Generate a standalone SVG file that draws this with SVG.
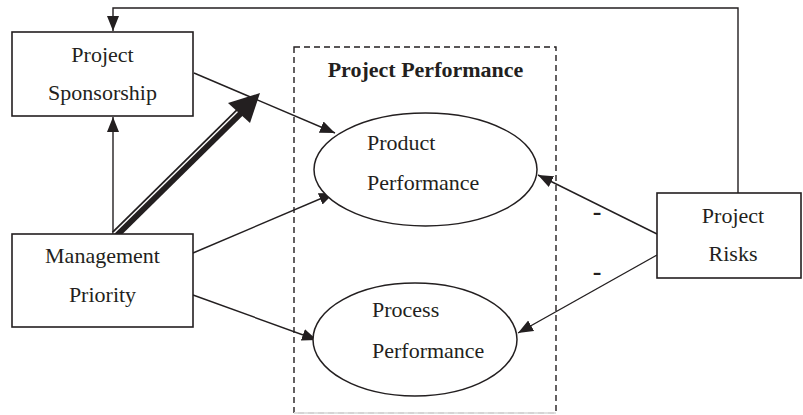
<svg xmlns="http://www.w3.org/2000/svg" width="803" height="415" viewBox="0 0 803 415">
<style>
.box{fill:#fff;stroke:#231f20;stroke-width:1.6}
.ell{fill:#fff;stroke:#231f20;stroke-width:1.5}
.ln{fill:none;stroke:#231f20;stroke-width:1.4}
.t{font-family:"Liberation Serif","Times New Roman",serif;font-size:22px;fill:#231f20}
.b{font-weight:bold}
.m{text-anchor:middle}
.neg{font-size:26px}
</style>
<defs>
<marker id="ah" markerUnits="userSpaceOnUse" markerWidth="16" markerHeight="14" viewBox="0 0 16 14" refX="15" refY="7" orient="auto">
<path d="M0,1 L15,7 L0,13 Z" fill="#231f20"/>
</marker>
</defs>
<rect x="0" y="0" width="803" height="415" fill="#fff"/>
<g id="group-performance">
<rect x="294" y="47" width="262" height="366" fill="none" stroke="#231f20" stroke-width="1.4" stroke-dasharray="6,4"/>
<line x1="294" y1="413" x2="556" y2="413" stroke="#fff" stroke-width="1.6"/>
<line x1="294" y1="413" x2="556" y2="413" stroke="#d8d8d8" stroke-width="1.4" stroke-dasharray="6,4"/>
<text class="t b m" x="425.5" y="77">Project Performance</text>
</g>
<g id="connectors">
<polyline class="ln" points="738,193 738,8 113,8 113,31" marker-end="url(#ah)"/>
<line class="ln" x1="113" y1="234" x2="113" y2="117" marker-end="url(#ah)"/>
<line class="ln" x1="194" y1="73" x2="335" y2="133" marker-end="url(#ah)"/>
<line class="ln" x1="193" y1="253" x2="334" y2="193" marker-end="url(#ah)"/>
<line class="ln" x1="193" y1="295" x2="317" y2="340" marker-end="url(#ah)"/>
<line class="ln" x1="657" y1="234" x2="538" y2="175" marker-end="url(#ah)"/>
<line class="ln" x1="657" y1="255" x2="518" y2="333" marker-end="url(#ah)"/>
<g id="double-arrow">
<line x1="115" y1="235" x2="242" y2="110" stroke="#231f20" stroke-width="9"/>
<line x1="113.6" y1="233.6" x2="240.6" y2="108.6" stroke="#fff" stroke-width="1.4"/>
<polygon points="260,93 228,103 250,123" fill="#231f20"/>
</g>
<text class="t b m neg" x="597" y="220">-</text>
<text class="t b m neg" x="597" y="280">-</text>
</g>
<g id="node-sponsorship">
<rect class="box" x="12" y="32" width="181" height="84"/>
<text class="t m" x="102.5" y="62">Project</text>
<text class="t m" x="102.5" y="100">Sponsorship</text>
</g>
<g id="node-management">
<rect class="box" x="12" y="234" width="181" height="93"/>
<text class="t m" x="102.5" y="263">Management</text>
<text class="t m" x="102.5" y="302">Priority</text>
</g>
<g id="node-product">
<ellipse class="ell" cx="425.5" cy="169.5" rx="111.5" ry="56.5"/>
<text class="t" x="367" y="150">Product</text>
<text class="t" x="367" y="190">Performance</text>
</g>
<g id="node-process">
<ellipse class="ell" cx="415" cy="339.5" rx="102" ry="56.5"/>
<text class="t" x="372" y="317">Process</text>
<text class="t" x="372" y="358">Performance</text>
</g>
<g id="node-risks">
<rect class="box" x="657" y="193" width="144" height="85"/>
<text class="t m" x="733" y="223">Project</text>
<text class="t m" x="733" y="261">Risks</text>
</g>
</svg>
